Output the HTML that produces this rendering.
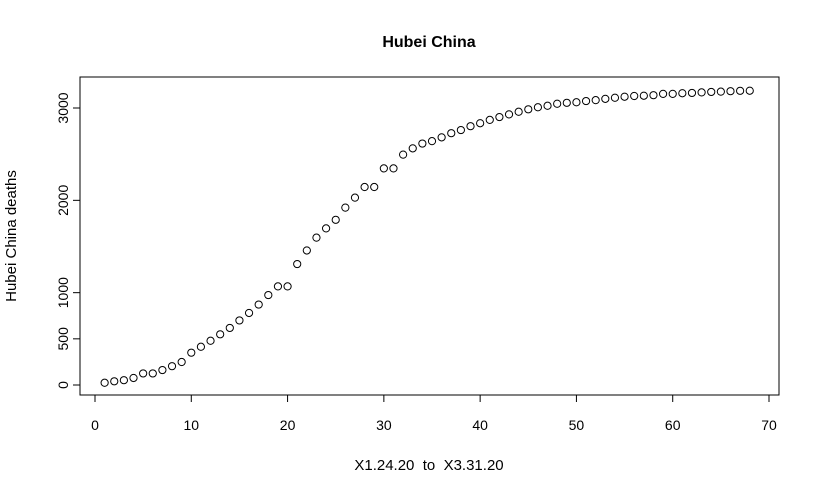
<!DOCTYPE html>
<html><head><meta charset="utf-8"><style>
html,body{margin:0;padding:0;background:#fff;}
svg{display:block;font-family:"Liberation Sans",Arial,sans-serif;}
</style></head><body>
<svg id="chart" width="818" height="493" viewBox="0 0 818 493">
<text x="429" y="47" text-anchor="middle" font-size="16" font-weight="bold">Hubei China</text>
<rect x="80" y="77" width="699" height="318" fill="none" stroke="#000" stroke-width="1"/>
<text x="429" y="470" text-anchor="middle" font-size="15" xml:space="preserve">X1.24.20  to  X3.31.20</text>
<text transform="translate(16,236) rotate(-90)" text-anchor="middle" font-size="15">Hubei China deaths</text>
<g id="xaxis"></g>
<g id="yaxis"></g>
<g id="points"></g>
</svg>
<script>
const deaths=[24,40,52,76,125,125,162,204,249,350,414,479,549,618,699,780,871,974,1068,1068,1310,1457,1596,1696,1789,1921,2029,2144,2144,2346,2346,2495,2563,2615,2641,2682,2727,2761,2803,2835,2871,2902,2931,2959,2986,3008,3024,3046,3056,3062,3075,3085,3099,3111,3122,3130,3133,3139,3153,3153,3160,3163,3169,3174,3177,3182,3186,3187];
const xTicks=[0,10,20,30,40,50,60,70];
const yTicks=[0,500,1000,2000,3000];
const NS="http://www.w3.org/2000/svg";
function sx(v){return 95+v*(769-95)/70;}
function sy(v){return 385-v*(385-108)/3000;}
function mk(tag,attrs,parent){const e=document.createElementNS(NS,tag);for(const k in attrs)e.setAttribute(k,attrs[k]);parent.appendChild(e);return e;}
const xa=document.getElementById('xaxis'),ya=document.getElementById('yaxis'),pg=document.getElementById('points');
mk('line',{x1:sx(0),x2:sx(70),y1:395,y2:395,stroke:'#000'},xa);
xTicks.forEach(t=>{
  const l=mk('line',{x1:sx(t),x2:sx(t),y1:395,y2:402,stroke:'#000'},xa);
  
  
  const tx=mk('text',{x:sx(t),y:430,'text-anchor':'middle','font-size':14},xa);
  tx.textContent=t;
  
  
});
mk('line',{x1:80,x2:80,y1:sy(0),y2:sy(3000),stroke:'#000'},ya);
yTicks.forEach(t=>{
  const l=mk('line',{x1:73,x2:80,y1:sy(t),y2:sy(t),stroke:'#000'},ya);
  
  
  const tx=mk('text',{transform:`translate(68,${sy(t)}) rotate(-90)`,'text-anchor':'middle','font-size':14},ya);
  tx.textContent=t;
  
  
});
deaths.forEach((d,i)=>{
  const c=mk('circle',{cx:sx(i+1),cy:sy(d),r:3.6,fill:'none',stroke:'#000','stroke-width':1},pg);
  
  
});
</script>
</body></html>
